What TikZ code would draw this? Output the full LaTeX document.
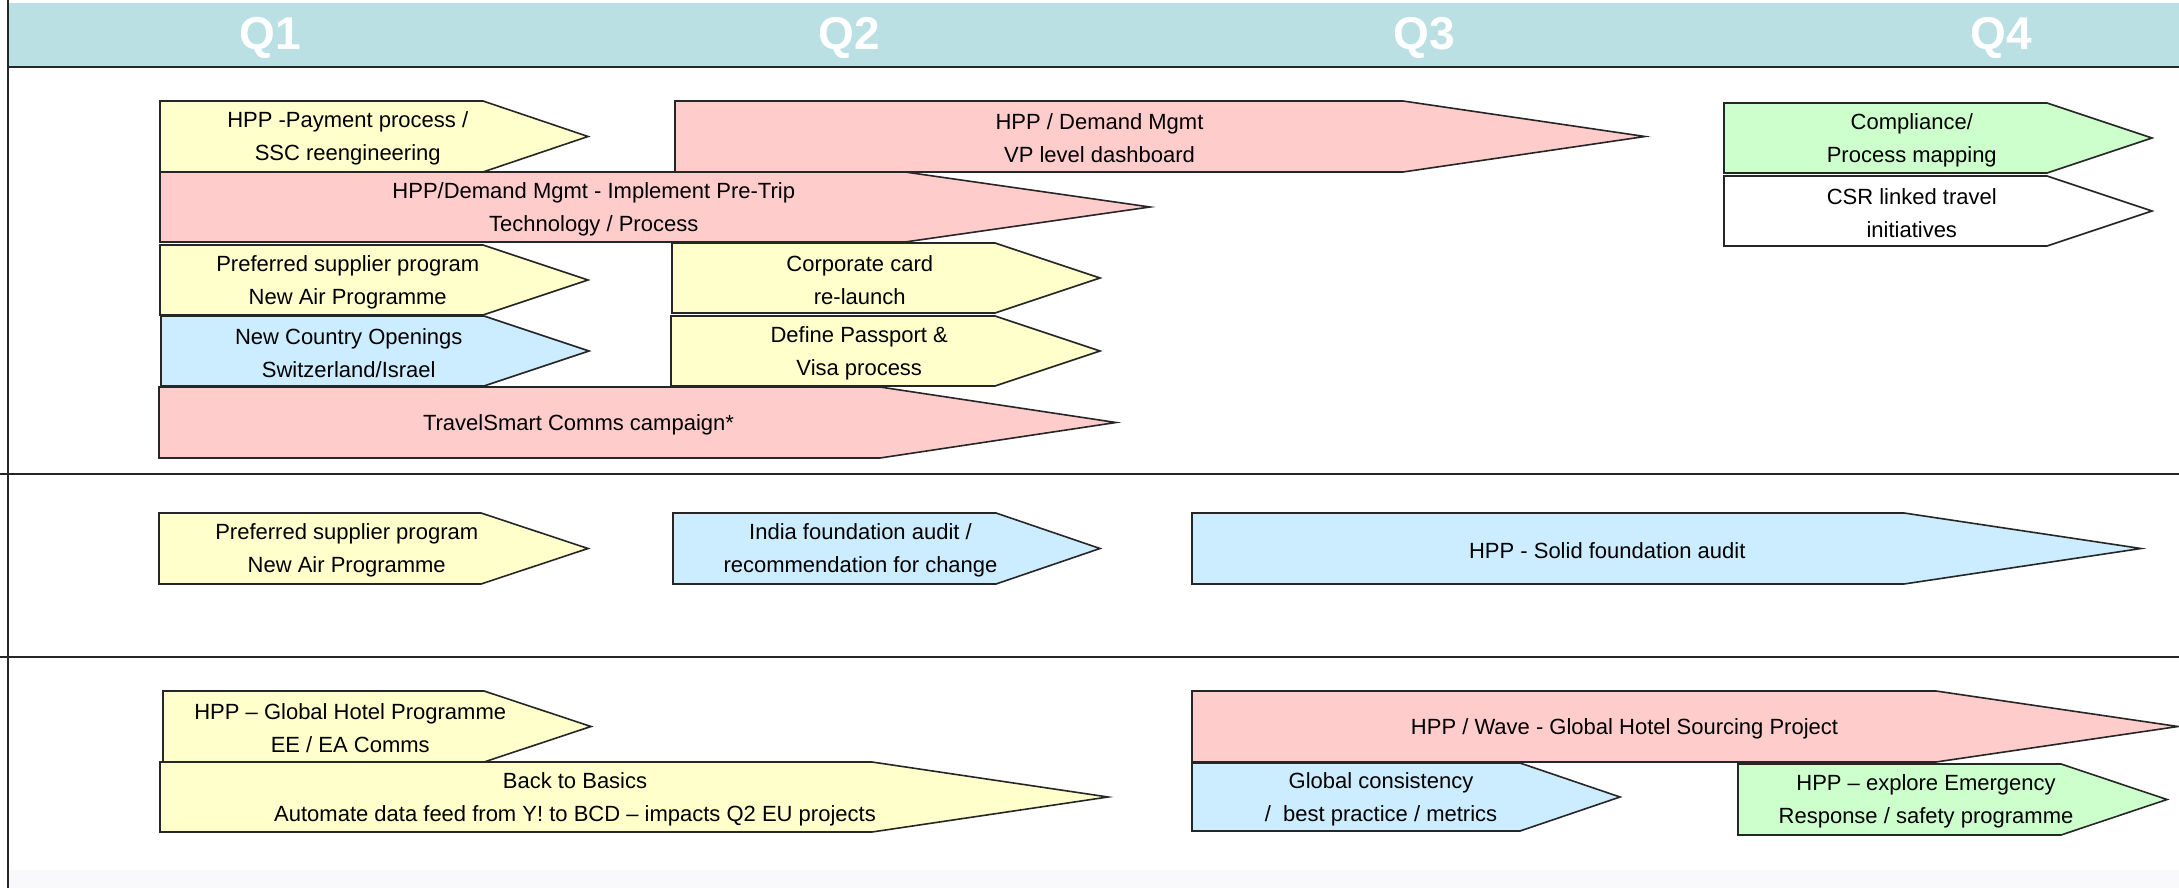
\documentclass[tikz,border=0pt]{standalone}
\usepackage{fontspec}
\setmainfont{Liberation Sans}
\definecolor{hdr}{RGB}{186,224,227}
\definecolor{yel}{RGB}{255,255,204}
\definecolor{pnk}{RGB}{255,204,204}
\definecolor{blu}{RGB}{204,236,255}
\definecolor{grn}{RGB}{204,255,204}
\definecolor{foot}{RGB}{249,249,252}
\tikzset{
  plate/.style={draw=black!85, line width=1.6pt, line join=miter},
  lbl/.style={align=center, inner sep=0pt, yshift=-2pt, font=\fontsize{22}{33}\selectfont},
  qlbl/.style={text=white, font=\fontsize{46}{46}\selectfont\bfseries, inner sep=0pt},
  rule/.style={draw=black!85, line width=1.8pt}
}
\newcommand\plate[8]{%
  \path[plate, fill=#2] (#3,#4) -- (#5,#4) -- (#6,{(#4+#7)/2}) -- (#5,#7) -- (#3,#7) -- cycle;
  \node[lbl] (#1) at ({(#3+(#5+#6)/2)/2},{(#4+#7)/2}) {#8};}
\begin{document}
\begin{tikzpicture}[x=1pt,y=-1pt]
\useasboundingbox (0,0) rectangle (2179,888);
\fill[white] (0,0) rectangle (2179,888);
\fill[foot] (9,870) rectangle (2179,888);
% header
\fill[hdr] (9,3) rectangle (2179,67);
\node[qlbl] (q1) at (270,38) {Q1};
\node[qlbl] (q2) at (849,38) {Q2};
\node[qlbl] (q3) at (1424,38) {Q3};
\node[qlbl] (q4) at (2001,38) {Q4};
% grid lines
\coordinate (vt) at (8,0); \coordinate (vb) at (8,888);
\draw[rule] (vt) -- (vb);
\coordinate (h0l) at (8,67); \coordinate (h0r) at (2179,67);
\coordinate (h1l) at (0,474); \coordinate (h1r) at (2179,474);
\coordinate (h2l) at (0,657); \coordinate (h2r) at (2179,657);
\draw[rule] (h0l) -- (h0r);
\draw[rule] (h1l) -- (h1r);
\draw[rule] (h2l) -- (h2r);
% row 1
\plate{a1}{yel}{160}{101}{483}{588}{172}{HPP -Payment process /\\SSC reengineering}
\plate{a2}{pnk}{675}{101}{1403}{1645}{172}{HPP / Demand Mgmt\\VP level dashboard}
\plate{a3}{pnk}{160}{172}{905}{1150}{242}{HPP/Demand Mgmt - Implement Pre-Trip\\Technology / Process}
\plate{a4}{yel}{160}{245}{483}{588}{315}{Preferred supplier program\\New Air Programme}
\plate{a5}{yel}{672}{243}{995}{1100}{313}{Corporate card\\re-launch}
\plate{a6}{blu}{161}{316}{484}{589}{386}{New Country Openings\\Switzerland/Israel}
\plate{a7}{yel}{671}{316}{995}{1100}{386}{Define Passport \&\\Visa process}
\plate{a8}{pnk}{159}{387}{880}{1116}{458}{TravelSmart Comms campaign*}
\plate{a9}{grn}{1724}{103}{2047}{2152}{173}{Compliance/\\Process mapping}
\plate{a10}{white}{1724}{176}{2047}{2152}{246}{CSR linked travel\\initiatives}
% row 2
\plate{b1}{yel}{159}{513}{481}{588}{584}{Preferred supplier program\\New Air Programme}
\plate{b2}{blu}{673}{513}{996}{1100}{584}{India foundation audit /\\recommendation for change}
\plate{b3}{blu}{1192}{513}{1904}{2141}{584}{HPP - Solid foundation audit}
% row 3
\plate{c1}{yel}{163}{691}{484}{591}{762}{HPP – Global Hotel Programme\\EE / EA Comms}
\plate{c2}{yel}{160}{762}{872}{1108}{832}{Back to Basics\\Automate data feed from Y! to BCD – impacts Q2 EU projects}
\plate{c3}{pnk}{1192}{691}{1936}{2178}{762}{HPP / Wave - Global Hotel Sourcing Project}
\plate{c4}{blu}{1192}{763}{1520}{1620}{831}{Global consistency\\/\ \ best practice / metrics}
\plate{c5}{grn}{1738}{764}{2061}{2167}{835}{HPP – explore Emergency\\Response / safety programme}
\end{tikzpicture}
\end{document}
